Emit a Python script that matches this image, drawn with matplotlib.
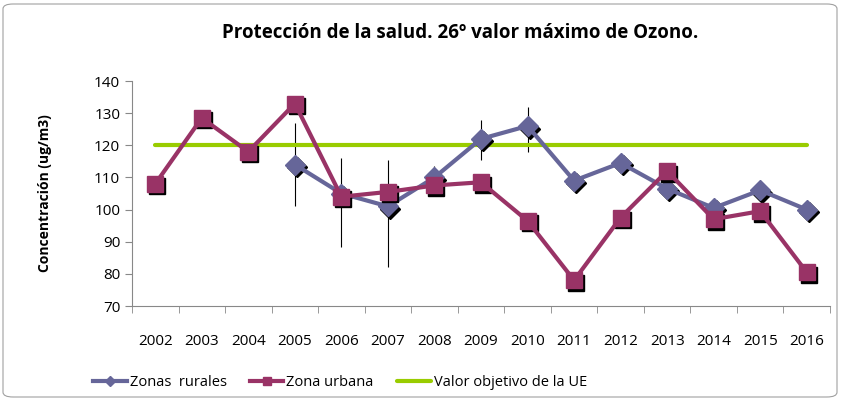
import numpy as np
import matplotlib.pyplot as plt
import matplotlib.transforms as mtransforms
from matplotlib.patches import FancyBboxPatch

plt.rcParams['font.family'] = ['Open Sans', 'DejaVu Sans']

years = ['2002', '2003', '2004', '2005', '2006', '2007', '2008', '2009',
         '2010', '2011', '2012', '2013', '2014', '2015', '2016']
rural = [np.nan, np.nan, np.nan, 114, 105, 101, 110, 122, 126, 109, 114.5, 106.5, 100.5, 106, 100]
urbana = [108, 128.5, 118, 133, 104, 105.5, 107.5, 108.5, 96.5, 78, 97.5, 112, 97, 99.5, 80.5]
objetivo = [120] * len(years)
# error bars on rural series (bottom / top)
err_low = [np.nan, np.nan, np.nan, 101, 88.5, 82, 107, 115.5, 118, np.nan, np.nan, np.nan, np.nan, np.nan, np.nan]
err_high = [np.nan, np.nan, np.nan, 127, 116, 115.5, 113.5, 128, 132, np.nan, np.nan, np.nan, np.nan, np.nan, np.nan]

c_rural = '#666699'
c_urb = '#993366'
c_obj = '#99cc00'

fig = plt.figure(figsize=(8.41, 4.01), dpi=100)
ax = fig.add_axes([132/841, 1-306/401, 698/841, 225/401])

x = np.arange(len(years))

# frame around chart
frame = FancyBboxPatch((3/841, 4/401), 834/841, 393/401,
                       boxstyle='round,pad=0,rounding_size=0.012',
                       transform=fig.transFigure, fill=False,
                       edgecolor='#a0a0a0', linewidth=0.8)
fig.patches.append(frame)

ax.vlines(x, err_low, err_high, color='black', linewidth=0.8, zorder=2)

shadow = mtransforms.offset_copy(ax.transData, fig=fig, x=2, y=-2.5, units='dots')

ax.plot(x, objetivo, color=c_obj, linewidth=3, solid_capstyle='round',
        label='Valor objetivo de la UE', zorder=3)
ax.plot(x, rural, linestyle='none', marker='D', markersize=10, color='black',
        transform=shadow, zorder=3)
ax.plot(x, rural, color=c_rural, linewidth=3, marker='D', markersize=10,
        label='Zonas  rurales', zorder=4)
ax.plot(x, urbana, linestyle='none', marker='s', markersize=12, color='black',
        transform=shadow, zorder=5)
ax.plot(x, urbana, color=c_urb, linewidth=3, marker='s', markersize=12,
        label='Zona urbana', zorder=6)

ax.set_xlim(-0.5, len(years) - 0.5)
ax.set_ylim(70, 140)
ax.set_yticks(np.arange(70, 141, 10))
ax.set_xticks(x)
ax.set_xticklabels(years)
ax.set_xticks(np.arange(-0.5, len(years), 1), minor=True)
ax.tick_params(axis='x', which='major', length=0, labelsize=11, pad=20)
ax.tick_params(axis='x', which='minor', length=5, color='#888888')
ax.tick_params(axis='y', labelsize=11, length=5, color='#888888')
for s in ['top', 'right']:
    ax.spines[s].set_visible(False)
for s in ['left', 'bottom']:
    ax.spines[s].set_color('#888888')

ax.set_ylabel('Concentración (ug/m3)', fontsize=10, fontweight='bold', labelpad=30)
fig.text(0.547, 1-33/401, 'Protección de la salud. 26º valor máximo de Ozono.',
         ha='center', va='center', fontsize=13.5, fontweight='bold')

h, l = ax.get_legend_handles_labels()
order = [1, 2, 0]
fig.legend([h[i] for i in order], [l[i] for i in order], loc='center left',
           bbox_to_anchor=(80/841, 1-383/401), ncol=3, frameon=False,
           fontsize=10.5, handlelength=2.3, columnspacing=1.6, handletextpad=0.2,
           markerscale=0.5)

fig.savefig('out.png', dpi=100)
